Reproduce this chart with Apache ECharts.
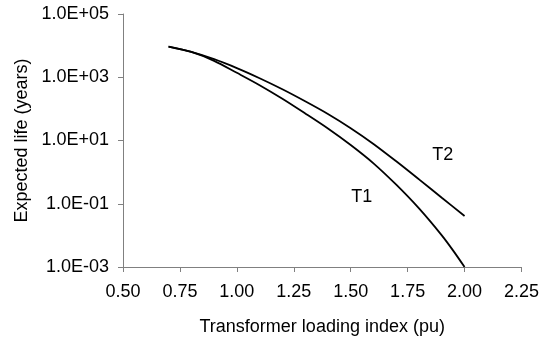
<!DOCTYPE html>
<html>
<head>
<meta charset="utf-8">
<script src="https://cdn.jsdelivr.net/npm/echarts@6/dist/echarts.min.js"></script>
<style>
  html, body { margin: 0; padding: 0; background: #fff; }
  #chart { width: 542px; height: 343px; }
</style>
</head>
<body>
<div id="chart"></div>
<script>
// loading index (pu)
const loadT1 = [0.7, 0.8, 0.9, 1.0, 1.1, 1.2, 1.3, 1.4, 1.5, 1.6, 1.7, 1.8, 1.9, 1.95, 2.0]
const lifeT1 = [9330, 6310, 3310, 1380, 562, 209, 72, 24, 7.2, 1.9, 0.40, 0.071, 0.010, 0.0033, 0.001]

const loadT2 = [0.7, 0.8, 0.9, 1.0, 1.1, 1.2, 1.3, 1.4, 1.5, 1.6, 1.7, 1.8, 1.9, 2.0]
const lifeT2 = [9330, 6310, 3720, 1950, 933, 417, 174, 69, 24.5, 7.8, 2.2, 0.59, 0.155, 0.041]

const seriesNames = ['T1', 'T2']
// where the curve names sit: [load, life]
const namePos = [[1.548, 0.16], [1.904, 3.5]]

const font = 'Liberation Sans, Arial, sans-serif'
const axisGray = '#808080'

// y axis is drawn in decades (log10 of life)
const toPairs = (xs, ys) => xs.map((x, i) => [x, Math.log10(ys[i])])

const fmtExp = v => {
  const e = Math.round(v)
  return '1.0E' + (e < 0 ? '-' : '+') + String(Math.abs(e)).padStart(2, '0')
}

const chart = echarts.init(document.getElementById('chart'))

const lineStyle = { color: '#000', width: 1.8 }

const nameLabel = name => ({
  symbol: 'circle', symbolSize: 0,
  label: { show: true, formatter: name, color: '#000', fontFamily: font, fontSize: 18 }
})

const option = {
  backgroundColor: '#fff',
  animation: false,
  grid: { left: 123, right: 20, top: 14, bottom: 76 },
  xAxis: {
    type: 'value',
    min: 0.5,
    max: 2.25,
    interval: 0.25,
    name: 'Transformer loading index (pu)',
    nameLocation: 'middle',
    nameGap: 51,
    nameTextStyle: { color: '#000', fontFamily: font, fontSize: 18 },
    axisLine: { onZero: false, lineStyle: { color: axisGray, width: 1 } },
    axisTick: { show: true, length: 5, lineStyle: { color: axisGray } },
    axisLabel: {
      color: '#000', fontFamily: font, fontSize: 18, margin: 16,
      formatter: v => v.toFixed(2)
    },
    splitLine: { show: false }
  },
  yAxis: {
    type: 'value',
    min: -3,
    max: 5,
    interval: 2,
    name: 'Expected life (years)',
    nameLocation: 'middle',
    nameGap: 92,
    nameTextStyle: { color: '#000', fontFamily: font, fontSize: 18 },
    axisLine: { show: true, onZero: false, lineStyle: { color: axisGray, width: 1 } },
    axisTick: { show: true, length: 5, lineStyle: { color: axisGray } },
    axisLabel: {
      color: '#000', fontFamily: font, fontSize: 18, margin: 14,
      formatter: fmtExp
    },
    splitLine: { show: false }
  },
  series: [
    {
      name: seriesNames[0],
      type: 'line',
      data: toPairs(loadT1, lifeT1),
      showSymbol: false,
      smooth: 0.3,
      lineStyle: lineStyle,
      markPoint: Object.assign(nameLabel(seriesNames[0]), {
        data: [{ coord: [namePos[0][0], Math.log10(namePos[0][1])] }]
      })
    },
    {
      name: seriesNames[1],
      type: 'line',
      data: toPairs(loadT2, lifeT2),
      showSymbol: false,
      smooth: 0.3,
      lineStyle: lineStyle,
      markPoint: Object.assign(nameLabel(seriesNames[1]), {
        data: [{ coord: [namePos[1][0], Math.log10(namePos[1][1])] }]
      })
    }
  ]
}

chart.setOption(option)
</script>
</body>
</html>
